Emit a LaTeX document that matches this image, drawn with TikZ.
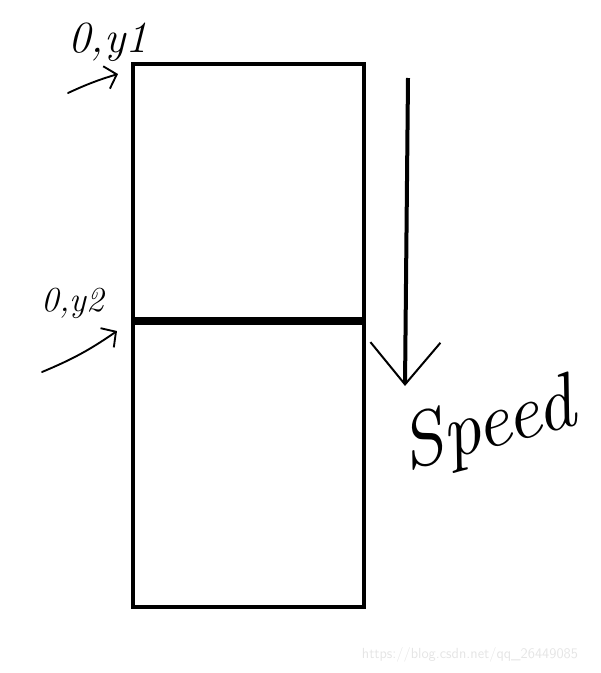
\documentclass[tikz,border=0pt]{standalone}
\usetikzlibrary{positioning,arrows.meta}
\tikzset{
	block/.style = {draw, rectangle, line width=0.12cm, inner sep=0pt, minimum width=6.93cm},
	hand/.style = {line width=1.6pt, line cap=round, line join=round},
	handarrow/.style = {hand, -{Straight Barb[length=0.32cm, width=0.7cm]}},
	speedarrow/.style = {line width=0.12cm, -{Straight Barb[length=1.26cm, width=2.1cm, line width=1.7pt]}},
	corner/.style = {font=\fontsize{38}{42}\selectfont\itshape, inner sep=0pt},
	speedtext/.style = {font=\fontsize{66}{72}\selectfont\itshape, inner sep=0pt},
	watermark/.style = {text=black!10, font=\sffamily\fontsize{12.5}{14}\selectfont, inner sep=0pt}
}

\begin{document}
\begin{tikzpicture}[x=0.03cm, y=-0.03cm]
	\useasboundingbox (0,0) rectangle (601,673);
	% the two blocks
	\node[block, minimum height=7.65cm] (top) at (248.5,191.5) {};
	\node[block, minimum height=8.52cm, below=0pt of top] (bottom) {};
	% corner labels
	\node[corner] (y1lab) at (108,42) {0,y1};
	\node[corner, font=\fontsize{30}{34}\selectfont\itshape] (y2lab) at (73,303) {0,y2};
	\coordinate (tail1) at (68,93);
	\coordinate (tail2) at (42,372);
	\draw[handarrow] (tail1) to[bend left=4] ([shift={(-13,12)}]top.north west);
	\draw[handarrow] (tail2) to[bend right=6] ([shift={(-14,10)}]top.south west);
	% speed
	\coordinate (speedtop) at (408,78);
	\coordinate (speedtip) at (405,386);
	\draw[speedarrow] (speedtop) -- (speedtip);
	\node[speedtext, rotate=15] (speedlab) at (488,428) {Speed};
	\node[watermark] (url) at (470,655) {https://blog.csdn.net/qq\_26449085};
\end{tikzpicture}
\end{document}
